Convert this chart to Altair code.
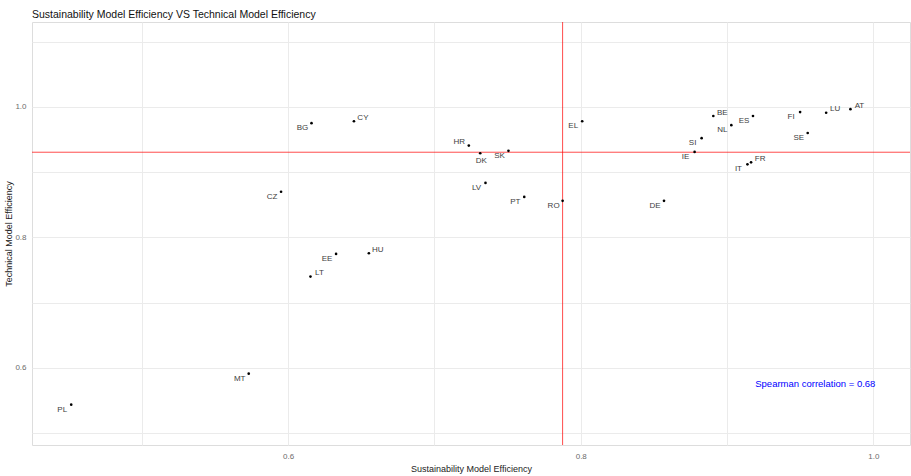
import altair as alt
import pandas as pd

# Country codes with their two efficiency scores
countries = ["BG", "CY", "HR", "DK", "SK", "CZ", "LV", "PT", "EL", "RO", "DE",
             "BE", "NL", "ES", "SI", "IE", "IT", "FR", "FI", "SE", "LU", "AT",
             "EE", "HU", "LT", "MT", "PL"]
sustainability = [0.616, 0.645, 0.7235, 0.7313, 0.7506, 0.5952, 0.7349, 0.7614,
                  0.8010, 0.7876, 0.8569, 0.8906, 0.9029, 0.9177, 0.8826, 0.8778,
                  0.9139, 0.9164, 0.9499, 0.9551, 0.9677, 0.9843, 0.6328, 0.6552,
                  0.6153, 0.5731, 0.4518]
technical = [0.975, 0.978, 0.9407, 0.929, 0.9326, 0.870, 0.8835, 0.862, 0.978,
             0.856, 0.856, 0.986, 0.972, 0.986, 0.952, 0.931, 0.912, 0.915,
             0.992, 0.960, 0.991, 0.9965, 0.7747, 0.7758, 0.740, 0.5913, 0.5438]
# which side of its point each label sits on
label_side = ["ll", "ur", "ul", "b", "ll", "ll", "ll", "ll", "ll", "ll", "ll",
              "ur", "ll", "ll", "ll", "ll", "ll", "ur", "ll", "ll", "ur", "ur",
              "ll", "ur", "ur", "ll", "ll"]

# reference lines (mean sustainability / mean technical efficiency)
ref_sustainability = [0.7876]
ref_technical = [0.9305]
spearman_text = ["Spearman correlation = 0.68"]
spearman_pos_x = [0.9603]
spearman_pos_y = [0.5755]

df = pd.DataFrame({"country": countries, "sust": sustainability,
                   "tech": technical, "side": label_side})

x_scale = alt.Scale(domain=[0.425, 1.025], nice=False, zero=False)
y_scale = alt.Scale(domain=[0.482, 1.13], nice=False, zero=False)

FONT = "Liberation Sans"

x_axis = alt.Axis(values=[0.5, 0.6, 0.7, 0.8, 0.9, 1.0],
                  labelExpr="round(datum.value*10) % 2 == 0 ? format(datum.value, '.1f') : ''",
                  domain=False, ticks=False, gridColor="#ebebeb", gridWidth=1,
                  labelColor="#6b6b6b", labelFontSize=8, labelFont=FONT,
                  labelPadding=7, title="Sustainability Model Efficiency",
                  titleFont=FONT, titleFontSize=9, titleFontWeight="normal",
                  titleColor="#222222", titlePadding=4)
y_axis = alt.Axis(values=[0.5, 0.6, 0.7, 0.8, 0.9, 1.0, 1.1],
                  labelExpr="round(datum.value*10) % 2 == 0 ? format(datum.value, '.1f') : ''",
                  domain=False, ticks=False, gridColor="#ebebeb", gridWidth=1,
                  labelColor="#6b6b6b", labelFontSize=8, labelFont=FONT,
                  labelPadding=6, title="Technical Model Efficiency",
                  titleFont=FONT, titleFontSize=9, titleFontWeight="normal",
                  titleColor="#222222", titlePadding=1)

base = alt.Chart(df)

points = base.mark_circle(size=7, color="black", opacity=1).encode(
    x=alt.X("sust:Q", scale=x_scale, axis=x_axis),
    y=alt.Y("tech:Q", scale=y_scale, axis=y_axis),
)

offsets = {"ll": (-9, 5), "ur": (9, -3.5), "ul": (-9.5, -3.7), "b": (1, 7.5)}
label_layers = []
for side, (dx, dy) in offsets.items():
    label_layers.append(
        base.transform_filter(alt.datum.side == side)
        .mark_text(dx=dx, dy=dy, fontSize=8, font=FONT, color="#3d3d3d",
                   align="center", baseline="middle")
        .encode(x=alt.X("sust:Q", scale=x_scale),
                y=alt.Y("tech:Q", scale=y_scale),
                text="country:N")
    )

vline = alt.Chart(pd.DataFrame({"v": ref_sustainability})).mark_rule(
    color="#ff0000", opacity=0.7, strokeWidth=1
).encode(x=alt.X("v:Q", scale=x_scale))

hline = alt.Chart(pd.DataFrame({"h": ref_technical})).mark_rule(
    color="#ff0000", opacity=0.7, strokeWidth=1
).encode(y=alt.Y("h:Q", scale=y_scale))

corr = alt.Chart(pd.DataFrame({"t": spearman_text, "x": spearman_pos_x,
                               "y": spearman_pos_y})).mark_text(
    color="#0000ff", fontSize=9.5, font=FONT, align="center", baseline="middle"
).encode(x=alt.X("x:Q", scale=x_scale), y=alt.Y("y:Q", scale=y_scale), text="t:N")

chart = alt.layer(vline, hline, points, *label_layers, corr).properties(
    width=878, height=423,
    title=alt.TitleParams("Sustainability Model Efficiency VS Technical Model Efficiency",
                          anchor="start", frame="group", font=FONT, fontSize=10.5,
                          fontWeight="normal", color="#111111", offset=1),
    autosize=alt.AutoSizeParams(type="none"),
    padding={"left": 32, "top": 22, "right": 1, "bottom": 31},
).configure_view(stroke=None).configure(background="white")

chart.save("out.html", embed_options={"renderer": "svg", "actions": False})
